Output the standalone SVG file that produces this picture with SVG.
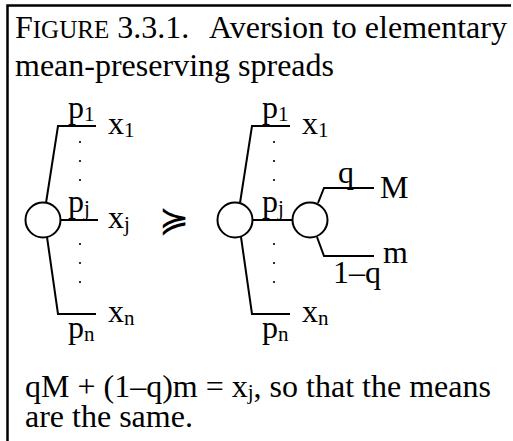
<svg xmlns="http://www.w3.org/2000/svg" width="513" height="441" viewBox="0 0 513 441">
<style>
text{font-family:"Liberation Serif","Times New Roman",serif;fill:#000;font-size:32px}
.sub{font-size:21px}
.sc{font-size:25px}
.ln{fill:none;stroke:#000;stroke-width:2}
.nd{fill:#fff;stroke:#000;stroke-width:2}
.dot{fill:#000}
.rel{font-family:"DejaVu Sans",sans-serif;font-size:36px;font-weight:200}
</style>
<rect width="513" height="441" fill="#fff"/>
<path d="M7.5,441 V5.5 H511" fill="none" stroke="#000" stroke-width="2.5"/>
<g id="title">
<text x="15" y="38">F<tspan class="sc">IGURE</tspan> 3.3.1.<tspan x="209">Aversion to elementary</tspan></text>
<text x="15" y="76">mean-preserving spreads</text>
</g>
<g id="connectors">
<path class="ln" d="M46,203 L58,126 H96"/>
<path class="ln" d="M60.5,220 H98"/>
<path class="ln" d="M47,237 L58,314 H96"/>
<path class="ln" d="M240,203 L252,126 H290"/>
<path class="ln" d="M252.5,220 H292.5"/>
<path class="ln" d="M241,237 L252,314 H290"/>
<path class="ln" d="M318,203 L324,188 H374"/>
<path class="ln" d="M317,237 L324,256 H374"/>
</g>
<g id="dots">
<circle class="dot" cx="80" cy="142" r="1.1"/><circle class="dot" cx="80" cy="161" r="1.1"/><circle class="dot" cx="80" cy="180" r="1.1"/>
<circle class="dot" cx="80" cy="244" r="1.1"/><circle class="dot" cx="80" cy="263" r="1.1"/><circle class="dot" cx="80" cy="282" r="1.1"/>
<circle class="dot" cx="274" cy="142" r="1.1"/><circle class="dot" cx="274" cy="161" r="1.1"/><circle class="dot" cx="274" cy="180" r="1.1"/>
<circle class="dot" cx="274" cy="244" r="1.1"/><circle class="dot" cx="274" cy="263" r="1.1"/><circle class="dot" cx="274" cy="282" r="1.1"/>
</g>
<g id="node-left">
<circle class="nd" cx="43" cy="220" r="17.5"/>
</g>
<g id="node-right">
<circle class="nd" cx="235" cy="220" r="17.5"/>
</g>
<g id="node-spread">
<circle class="nd" cx="310" cy="220" r="17.5"/>
</g>
<g id="labels-left">
<text x="68" y="118">p<tspan class="sub" dy="3">1</tspan></text>
<text x="108" y="134">x<tspan class="sub" dy="3">1</tspan></text>
<text x="68" y="212">p<tspan class="sub" dy="3">j</tspan></text>
<text x="108" y="228">x<tspan class="sub" dy="3">j</tspan></text>
<text x="108" y="322">x<tspan class="sub" dy="3">n</tspan></text>
<text x="68" y="338">p<tspan class="sub" dy="3">n</tspan></text>
</g>
<g id="relation">
<text class="rel" x="174" y="232" text-anchor="middle">≽</text>
</g>
<g id="labels-right">
<text x="262" y="118">p<tspan class="sub" dy="3">1</tspan></text>
<text x="302" y="134">x<tspan class="sub" dy="3">1</tspan></text>
<text x="262" y="212">p<tspan class="sub" dy="3">j</tspan></text>
<text x="302" y="322">x<tspan class="sub" dy="3">n</tspan></text>
<text x="262" y="338">p<tspan class="sub" dy="3">n</tspan></text>
<text x="338" y="183">q</text>
<text x="380" y="198">M</text>
<text x="383" y="263">m</text>
<text x="333" y="283">1–q</text>
</g>
<g id="caption">
<text x="25" y="397">qM + (1–q)m = x<tspan class="sub" dy="2">j</tspan><tspan dy="-2">, so that the means</tspan></text>
<text x="25" y="427">are the same.</text>
</g>
</svg>
